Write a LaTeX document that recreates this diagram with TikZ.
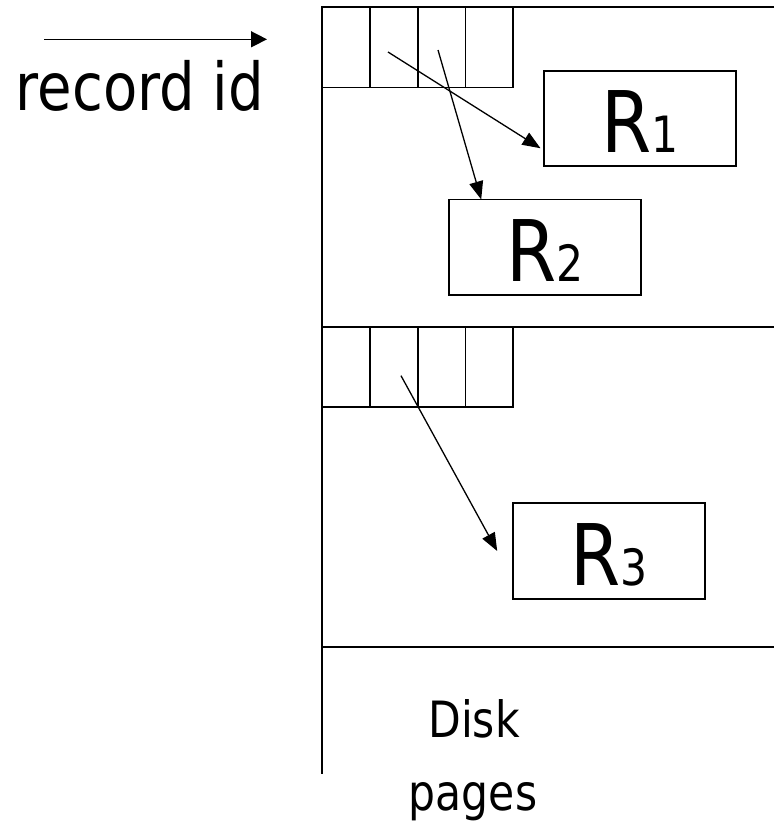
\documentclass[tikz,border=0pt]{standalone}
\usepackage{fontspec}
\newfontfamily\tah[FakeStretch=0.85]{DejaVu Sans}
\usetikzlibrary{arrows.meta}
\newcommand\subdig[1]{{\fontsize{50}{50}\selectfont #1}}
\begin{document}
\begin{tikzpicture}[x=1pt,y=-1pt,
  line width=1.8pt,
  slot/.style={draw, minimum width=47.8pt, minimum height=80.5pt, inner sep=0pt, outer sep=0pt, anchor=north west},
  recbox/.style={draw, line width=1.6pt, minimum width=192pt, minimum height=95.5pt, inner sep=0pt, outer sep=0pt, text height=68pt, text depth=0pt, font=\tah\fontsize{85}{85}\selectfont},
  ptr/.style={line width=1.3pt, -{Triangle[length=18pt,width=14pt]}},
  lbl/.style={font=\tah\fontsize{50}{50}\selectfont, inner sep=0pt, anchor=base}
]
\useasboundingbox (0,0) rectangle (774,822);

% pages
\draw (774,7) -- (322,7) -- (322,774);
\draw (322,326.7) -- (774,326.7);
\draw (322,647.3) -- (774,647.3);

% slot directories
\foreach \i in {1,...,4} {
  \node[slot] (a\i) at ({322+47.8*(\i-1)},7) {};
  \node[slot] (b\i) at ({322+47.8*(\i-1)},326.7) {};
}

% records
\node[recbox] (R1) at (640,118.5) {R\subdig{1}};
\node[recbox] (R2) at (545.2,247.2) {R\subdig{2}};
\node[recbox] (R3) at (609.2,551) {R\subdig{3}};

% pointers
\draw[ptr] ([xshift=-5.7pt,yshift=-4.75pt]a2.center) -- ([xshift=-3.5pt,yshift=18pt]R1.south west);
\draw[ptr] ([xshift=-3.5pt,yshift=-2.75pt]a3.center) -- ([xshift=32pt]R2.north west);
\draw[ptr] ([xshift=7.3pt,yshift=-8.75pt]b2.center) -- ([xshift=-16pt]R3.west);

% record id
\coordinate (ra) at (44,39.3);
\coordinate (rb) at (267,39.3);
\draw[line width=1.5pt, -{Triangle[length=16pt,width=16pt]}] (ra) -- (rb);
\node[lbl, font=\tah\fontsize{66}{66}\selectfont] (rid) at (140,110) {record id};

% caption
\node[lbl] (disk) at (474,737) {Disk};
\node[lbl] (pages) at (473,810) {pages};
\end{tikzpicture}
\end{document}
